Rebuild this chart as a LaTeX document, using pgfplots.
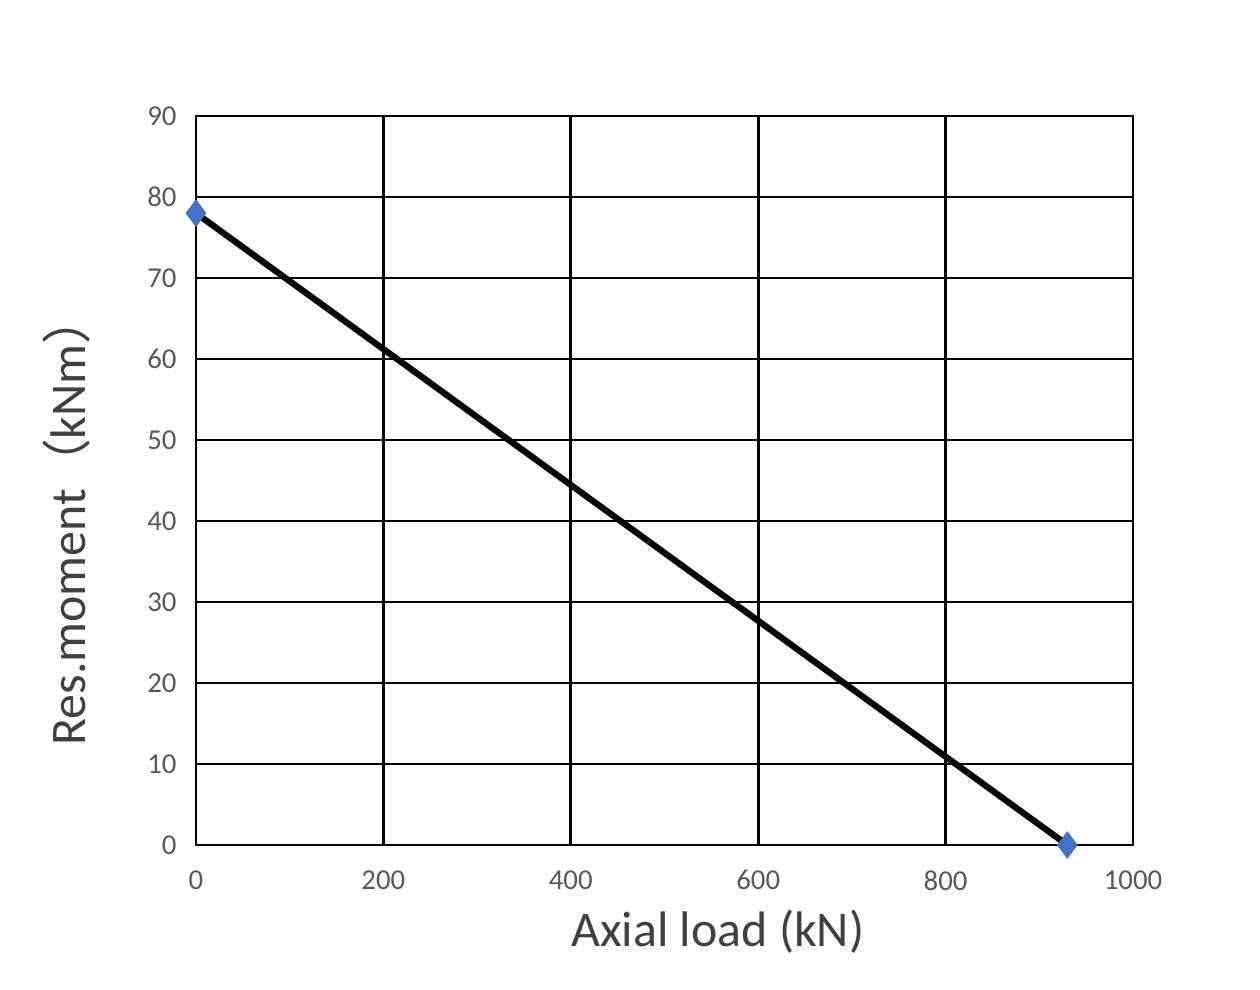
\documentclass[border=0pt]{standalone}
\usepackage{pgfplots}
\pgfplotsset{compat=1.18}
\usepackage{fontspec}
\setmainfont{Carlito}
\newfontfamily\cjk{Noto Sans CJK SC}
\definecolor{ticktxt}{HTML}{595959}
\definecolor{labtxt}{HTML}{404040}
\definecolor{mk}{HTML}{4472C4}
\begin{document}
\begin{tikzpicture}
  \path (0,0) rectangle (12.6cm,9.9cm);
  \begin{axis}[
    at={(1.96cm,1.45cm)}, anchor=south west,
    scale only axis, width=9.37cm, height=7.29cm,
    xmin=0, xmax=1000, ymin=0, ymax=90,
    xtick={0,200,...,1000}, ytick={0,10,...,90},
    grid=major,
    major grid style={black, line width=0.75pt},
    axis line style={black, line width=0.75pt},
    major tick length=0pt,
    tick label style={font=\fontsize{8.2}{10}\selectfont, text=ticktxt},
    /pgf/number format/assume math mode=true,
    /pgf/number format/1000 sep={},
    xticklabel style={yshift=-3.7pt},
    yticklabel style={xshift=-2pt},
    xlabel={Axial load (kN)},
    ylabel={Res.moment{\cjk （}kNm{\cjk ）}},
    label style={font=\fontsize{14.2}{17}\selectfont, text=labtxt},
    xlabel style={at={(axis description cs:0.557,-0.119)}, anchor=center},
    ylabel style={at={(axis description cs:-0.138,0.446)}, anchor=center, rotate=0},
  ]
    \addplot[black, line width=1.8pt, mark=diamond*, mark size=3.6pt,
      mark options={fill=mk, draw=mk, line width=0.4pt}]
      coordinates {(0,78) (930,0)};
  \end{axis}
\end{tikzpicture}
\end{document}
